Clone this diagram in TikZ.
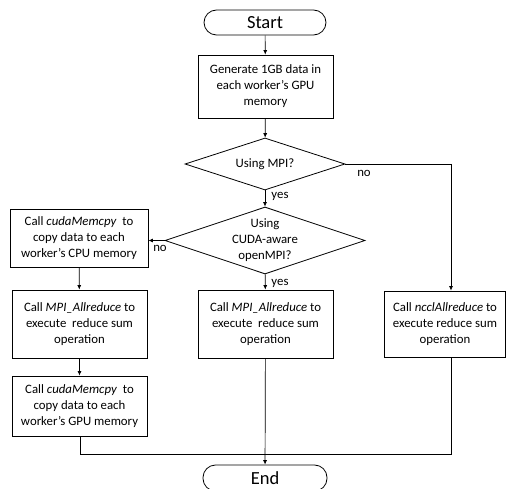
\documentclass[tikz,border=0pt]{standalone}
\usepackage{fontspec}
\setmainfont{Carlito}
\usetikzlibrary{shapes.geometric,arrows.meta}
\begin{document}
\begin{tikzpicture}[x=1pt,y=-1pt,
  every node/.style={font=\fontsize{12.8}{16}\selectfont},
  procbox/.style={draw,line width=0.8pt,align=center,inner sep=0pt},
  termbox/.style={draw,line width=0.8pt,rounded corners=12.5pt,inner sep=0pt,
    font=\fontsize{18.5}{20}\selectfont},
  decbox/.style={draw,line width=0.8pt,diamond,aspect=3,inner sep=0pt,align=center},
  conn/.style={line width=0.7pt},
  arr/.style={conn,-{Latex[length=4.5pt,width=4pt]}},
  lbl/.style={inner sep=0pt}]
\useasboundingbox (0,0) rectangle (506,489);
\node[termbox,minimum width=122pt,minimum height=25pt] (start) at (265,22.5) {Start};
\node[procbox,minimum width=135pt,minimum height=63pt] (gen) at (265.5,86.5)
  {Generate 1GB data in\\each worker’s GPU\\memory};
\node[decbox,minimum width=160pt,minimum height=52pt] (d1) at (265,164) {Using MPI?};
\node[decbox,minimum width=200pt,minimum height=67pt] (d2) at (265,240.5)
  {Using\\CUDA-aware\\openMPI?};
\node[procbox,minimum width=138pt,minimum height=58pt] (cpu) at (79,238)
  {Call \textit{cudaMemcpy}\ \ to\\copy data to each\\worker’s CPU memory};
\node[procbox,minimum width=135pt,minimum height=68pt] (mpil) at (79.5,324)
  {Call \textit{MPI\_Allreduce} to\\execute\ \ reduce sum\\operation};
\node[procbox,minimum width=135pt,minimum height=68pt] (mpim) at (265.5,324)
  {Call \textit{MPI\_Allreduce} to\\execute\ \ reduce sum\\operation};
\node[procbox,minimum width=121pt,minimum height=66pt] (nccl) at (445,324)
  {Call \textit{ncclAllreduce} to\\execute reduce sum\\operation};
\node[procbox,minimum width=135pt,minimum height=60pt] (gpu) at (79.5,406)
  {Call \textit{cudaMemcpy}\ \ to\\copy data to each\\worker’s GPU memory};
\node[termbox,minimum width=124pt,minimum height=26pt] (end) at (265,478) {End};
\coordinate (jl) at (80,454);
\coordinate (jr) at (451,454);
\coordinate (jm) at (265,454);
\coordinate (nr) at (451,164);
\node[lbl] (yes1) at (280,196) {yes};
\node[lbl] (yes2) at (280,283) {yes};
\node[lbl] (no1) at (364,173) {no};
\node[lbl] (no2) at (160,248) {no};
\draw[arr] (start) -- (gen);
\draw[arr] (gen) -- (d1);
\draw[arr] (d1) -- (d2);
\draw[conn] (d1.east) -- (nr);
\draw[arr] (nr) -- (nccl.north -| nr);
\draw[arr] (d2.west) -- (cpu.east |- d2.west);
\draw[arr] (d2) -- (mpim);
\draw[arr] (cpu) -- (mpil);
\draw[arr] (mpil) -- (gpu);
\draw[conn] (gpu.south -| jl) -- (jl) -- (jm);
\draw[conn] (nccl.south -| jr) -- (jr) -- (jm);
\draw[arr] (mpim) -- (end);
\end{tikzpicture}
\end{document}
